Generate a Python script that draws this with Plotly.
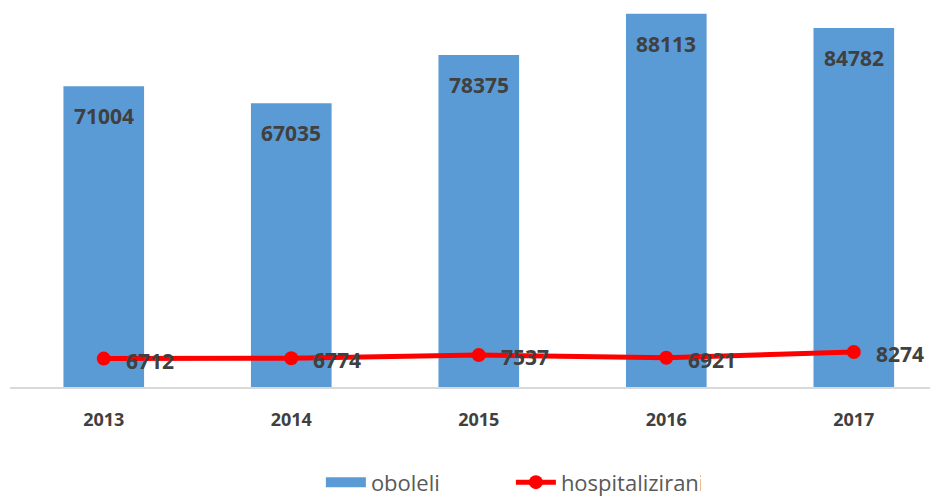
import plotly.graph_objects as go

years = ["2013", "2014", "2015", "2016", "2017"]
oboleli = [71004, 67035, 78375, 88113, 84782]
hospitalizirani = [6712, 6774, 7537, 6921, 8274]

LABEL_FONT = dict(family="Open Sans", size=21, color="#404040", weight="bold")

fig = go.Figure()
fig.add_trace(go.Bar(
    x=years, y=oboleli, name="oboleli", showlegend=False,
    marker=dict(color="#5B9BD5", line=dict(width=0)),
))
# legend entry for bars drawn as a wide block
fig.add_trace(go.Scatter(
    x=[None], y=[None], name="oboleli", mode="lines",
    line=dict(color="#5B9BD5", width=13),
))
fig.add_trace(go.Scatter(
    x=years, y=hospitalizirani, name="hospitalizirani",
    mode="lines+markers",
    line=dict(color="#FF0000", width=5),
    marker=dict(color="#FF0000", size=14),
))

for i, v in enumerate(oboleli):
    fig.add_annotation(
        x=i, y=v, text=str(v), showarrow=False, yanchor="top", yshift=-14,
        font=LABEL_FONT,
    )
for i, v in enumerate(hospitalizirani):
    fig.add_annotation(
        x=i, y=v, text=str(v), showarrow=False, xanchor="left", yanchor="middle",
        xshift=20, yshift=-2, font=LABEL_FONT,
    )

# page body has an 8px default margin, so the figure is 8px smaller
fig.update_layout(
    width=930, height=489,
    margin=dict(l=2, r=0, t=0, b=110),
    plot_bgcolor="white", paper_bgcolor="white",
    bargap=0.57,
    showlegend=True,
    legend=dict(
        orientation="h", x=0.335, xanchor="left",
        yref="container", y=0.03, yanchor="middle",
        font=dict(family="Open Sans", size=22, color="#595959"),
        itemwidth=40, tracegroupgap=0, entrywidth=135,
    ),
)
fig.update_xaxes(
    type="category", range=[-0.5, 4.449],
    showline=True, linecolor="#D9D9D9", linewidth=1.5, ticks="",
    tickfont=dict(family="Open Sans", size=18, color="#404040", weight="bold"),
    ticklabelstandoff=16, automargin=False,
)
fig.update_yaxes(range=[0, 89500], visible=False, showgrid=False)

fig.write_html("out.html")
